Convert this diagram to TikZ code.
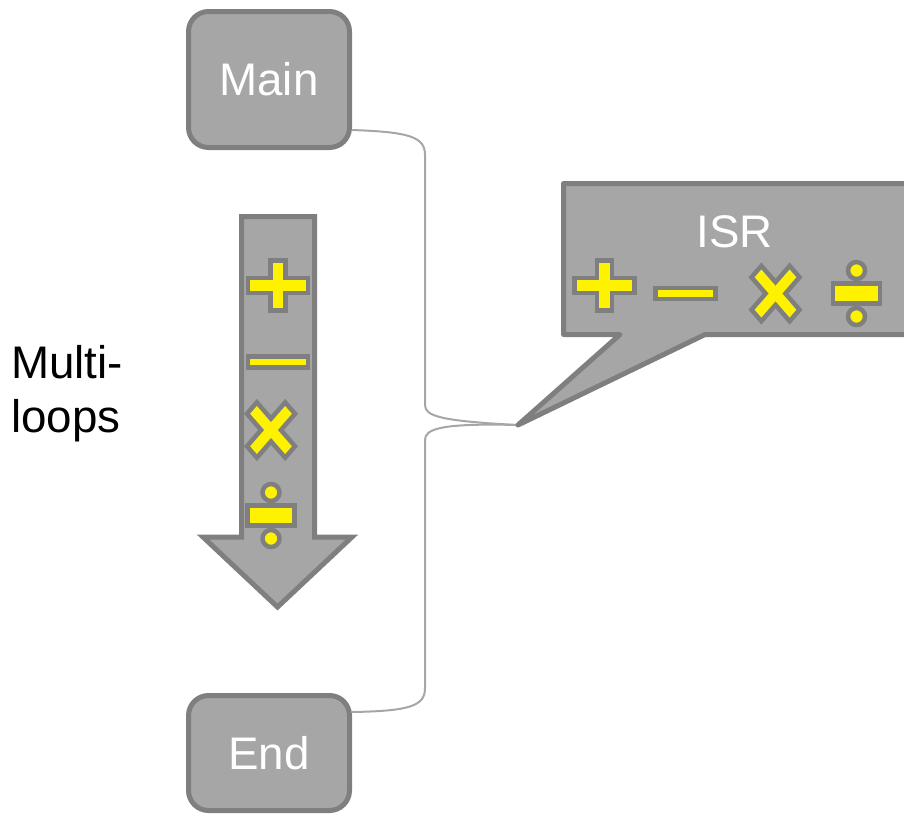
\documentclass[tikz,border=0pt]{standalone}
\usepackage{fontspec}
\setmainfont{Liberation Sans}
\usepackage{tikz}
\usetikzlibrary{calc,positioning}
\definecolor{boxfill}{HTML}{A6A6A6}
\definecolor{boxline}{HTML}{7F7F7F}
\definecolor{bracegray}{HTML}{A6A6A6}

\begin{document}
\begin{tikzpicture}
  [block/.style={rectangle,rounded corners=0.4cm,fill=boxfill,draw=boxline,line width=0.1cm,
                 text=white,font=\fontsize{26}{31}\selectfont,minimum width=3.22cm},
   plain/.style={inner sep=0pt,font=\fontsize{26}{31}\selectfont},
   shapebox/.style={fill=boxfill,draw=boxline,line width=0.1cm},
   opsym/.style={fill=yellow,draw=boxline,line width=0.09cm,line join=miter},
   bracelink/.style={draw=bracegray,line width=0.04cm},
   opplus/.pic={\filldraw[opsym] (-0.6,0.15) -| (-0.15,0.5) -| (0.15,0.15) -| (0.6,-0.15)
                 -| (0.15,-0.5) -| (-0.15,-0.15) -| (-0.6,0.15) -- cycle;},
   opminus/.pic={\filldraw[opsym] (-0.6,-0.11) rectangle (0.6,0.11);},
   optimes/.pic={\filldraw[opsym,yscale=1.15,rotate=45] (-0.54,0.14) -| (-0.14,0.54)
                 -| (0.14,0.14) -| (0.54,-0.14) -| (0.14,-0.54) -| (-0.14,-0.14)
                 -| (-0.54,0.14) -- cycle;},
   opdiv/.pic={\filldraw[opsym] (-0.47,-0.2) rectangle (0.47,0.2);
               \filldraw[opsym] (0,0.46) circle (0.17);
               \filldraw[opsym] (0,-0.46) circle (0.17);}]
  \useasboundingbox (0,0) rectangle (18.08,-16.3);
  \clip (0,0) rectangle (18.08,-16.3);

  \node (main) [block,minimum height=2.72cm] at (5.38,-1.59) {Main};
  \node (end) [block,minimum height=2.3cm] at (5.38,-15.06) {End};
  \node (loops) [plain,align=left,anchor=west] at (0.22,-7.87) {Multi-\\loops};

  \coordinate (isrtip) at (10.36,-8.5);
  \coordinate (mainout) at ([yshift=-1.01cm]main.east);
  \coordinate (endout) at ([yshift=0.82cm]end.east);

  % brace from main and end to the interrupt
  \draw[bracelink] (mainout) .. controls (8.2,-2.64) and (8.5,-2.74) .. (8.5,-3.1)
    -- (8.5,-8.1) .. controls (8.5,-8.32) and (8.8,-8.42) .. (isrtip);
  \draw[bracelink] (isrtip) .. controls (8.8,-8.46) and (8.5,-8.58) .. (8.5,-8.8)
    -- (8.5,-13.76) .. controls (8.5,-14.12) and (8.2,-14.22) .. (endout);

  % loop arrow
  \filldraw[shapebox,line join=miter] (4.83,-4.33) -- (6.29,-4.33) -- (6.29,-10.74)
    -- (7.04,-10.74) -- (5.55,-12.14) -- (4.06,-10.74) -- (4.83,-10.74) -- cycle;
  \pic (aplus) at (5.56,-5.71) {opplus};
  \pic (aminus) at (5.56,-7.24) {opminus};
  \pic (atimes) at (5.42,-8.6) {optimes};
  \pic (adiv) at (5.42,-10.31) {opdiv};

  % interrupt callout
  \filldraw[shapebox,line join=round] (11.27,-3.67) -- (18.4,-3.67) -- (18.4,-6.69)
    -- (14.1,-6.69) -- (isrtip) -- (12.4,-6.69) -- (11.27,-6.69) -- cycle;
  \node (isr) [plain,text=white] at (14.69,-4.64) {ISR};
  \pic (iplus) at (12.09,-5.71) {opplus};
  \pic (iminus) at (13.71,-5.87) {opminus};
  \pic (itimes) at (15.51,-5.87) {optimes};
  \pic (idiv) at (17.13,-5.87) {opdiv};
\end{tikzpicture}
\end{document}
